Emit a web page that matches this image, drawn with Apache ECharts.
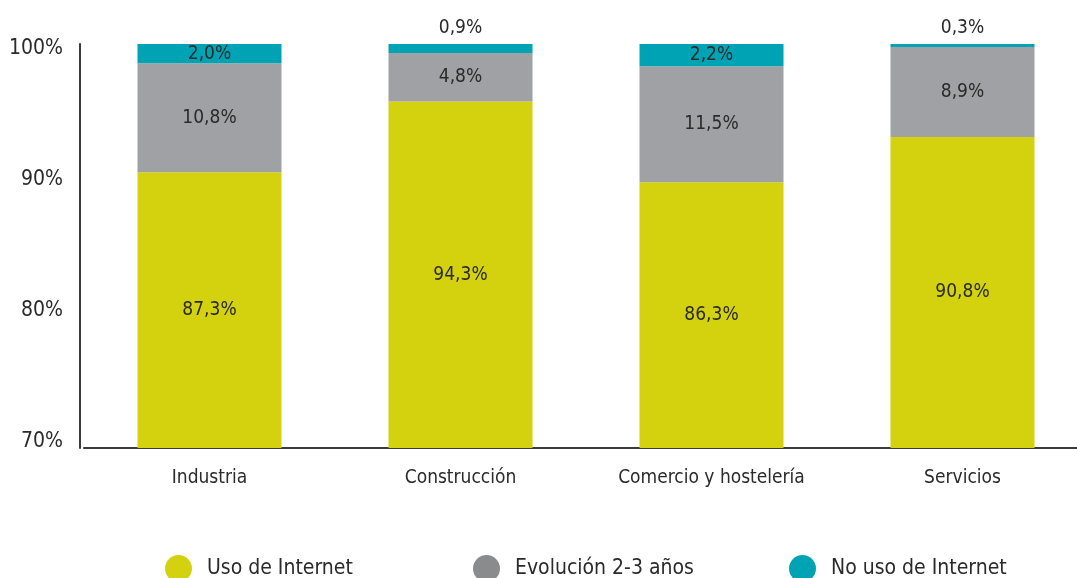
<!DOCTYPE html>
<html>
<head>
<meta charset="utf-8">
<script src="https://cdn.jsdelivr.net/npm/echarts@6/dist/echarts.min.js"></script>
<style>
  html, body { margin: 0; padding: 0; background: #fff; }
  #main { width: 1077px; height: 578px; }
</style>
</head>
<body>
<div id="main"></div>
<script>
// datos
var categories = ['Industria', 'Construcción', 'Comercio y hostelería', 'Servicios'];
var usoInternet = [87.3, 94.3, 86.3, 90.8];
var evolucion = [10.8, 4.8, 11.5, 8.9];
var noUso = [2.0, 0.9, 2.2, 0.3];
var seriesNames = ['Uso de Internet', 'Evolución 2-3 años', 'No uso de Internet'];
var tickLabels = [70, 80, 90, 100];

var FONT = '"Liberation Sans Narrow", "DejaVu Sans Condensed", "Liberation Sans", sans-serif';
var colors = ['#d4d20f', '#a0a1a5', '#00a3b4'];
var legendColors = ['#d4d20f', '#898b8d', '#00a3b4'];

function fmt(v) {
    return v.toFixed(1).replace('.', ',') + '%';
}

var myChart = echarts.init(document.getElementById('main'));

var labelBase = {
    show: true,
    fontFamily: FONT,
    fontSize: 19,
    color: '#2a2a2a',
    formatter: function (p) { return fmt(p.value); }
};

// etiquetas de "No uso": dentro si cabe, encima si la barra es muy fina
var noUsoData = noUso.map(function (v) {
    return {
        value: v,
        label: { position: v < 1.5 ? 'top' : 'inside' }
    };
});

var option = {
    animation: false,
    textStyle: { fontFamily: FONT },
    grid: [
        { left: 84, width: 1004, top: 44, bottom: 130, outerBoundsMode: 'none' },
        // rejilla auxiliar solo para los rótulos del eje Y tal como salen en el original
        { left: 84, width: 1004, top: 49, bottom: 136, outerBoundsMode: 'none' }
    ],
    legend: seriesNames.map(function (n, i) {
        return {
            data: [{ name: n, itemStyle: { color: legendColors[i] } }],
            left: [160, 468, 784][i],
            top: 550,
            icon: 'circle',
            itemWidth: 27,
            itemHeight: 27,
            itemGap: 0,
            textStyle: { fontFamily: FONT, fontSize: 21, color: '#2a2a2a', padding: [0, 0, 0, 10] }
        };
    }),
    xAxis: [
        {
            type: 'category',
            gridIndex: 0,
            data: categories,
            axisLine: { lineStyle: { color: '#3a3a3a', width: 2 } },
            axisTick: { show: false },
            axisLabel: { fontFamily: FONT, fontSize: 19, color: '#2a2a2a', margin: 21 }
        },
        {
            type: 'category',
            gridIndex: 1,
            data: categories,
            show: false
        }
    ],
    yAxis: [
        {
            type: 'value',
            gridIndex: 0,
            min: 60,
            max: 100,
            offset: 4,
            axisLine: { show: true, lineStyle: { color: '#3a3a3a', width: 2 } },
            axisTick: { show: false },
            axisLabel: { show: false },
            splitLine: { show: false }
        },
        {
            type: 'value',
            gridIndex: 1,
            min: tickLabels[0],
            max: tickLabels[tickLabels.length - 1],
            interval: 10,
            axisLine: { show: false },
            axisTick: { show: false },
            splitLine: { show: false },
            axisLabel: {
                fontFamily: FONT, fontSize: 21, color: '#2a2a2a', margin: 21,
                formatter: '{value}%'
            }
        }
    ],
    series: [
        {
            name: seriesNames[0], type: 'bar', stack: 'total',
            barWidth: 144, data: usoInternet,
            itemStyle: { color: colors[0] },
            label: Object.assign({ position: 'inside' }, labelBase)
        },
        {
            name: seriesNames[1], type: 'bar', stack: 'total',
            barWidth: 144, data: evolucion,
            itemStyle: { color: colors[1] },
            label: Object.assign({ position: 'inside' }, labelBase)
        },
        {
            name: seriesNames[2], type: 'bar', stack: 'total',
            barWidth: 144, data: noUsoData,
            itemStyle: { color: colors[2] },
            label: Object.assign({ position: 'inside', distance: 6 }, labelBase)
        }
    ]
};

myChart.setOption(option);
</script>
</body>
</html>
